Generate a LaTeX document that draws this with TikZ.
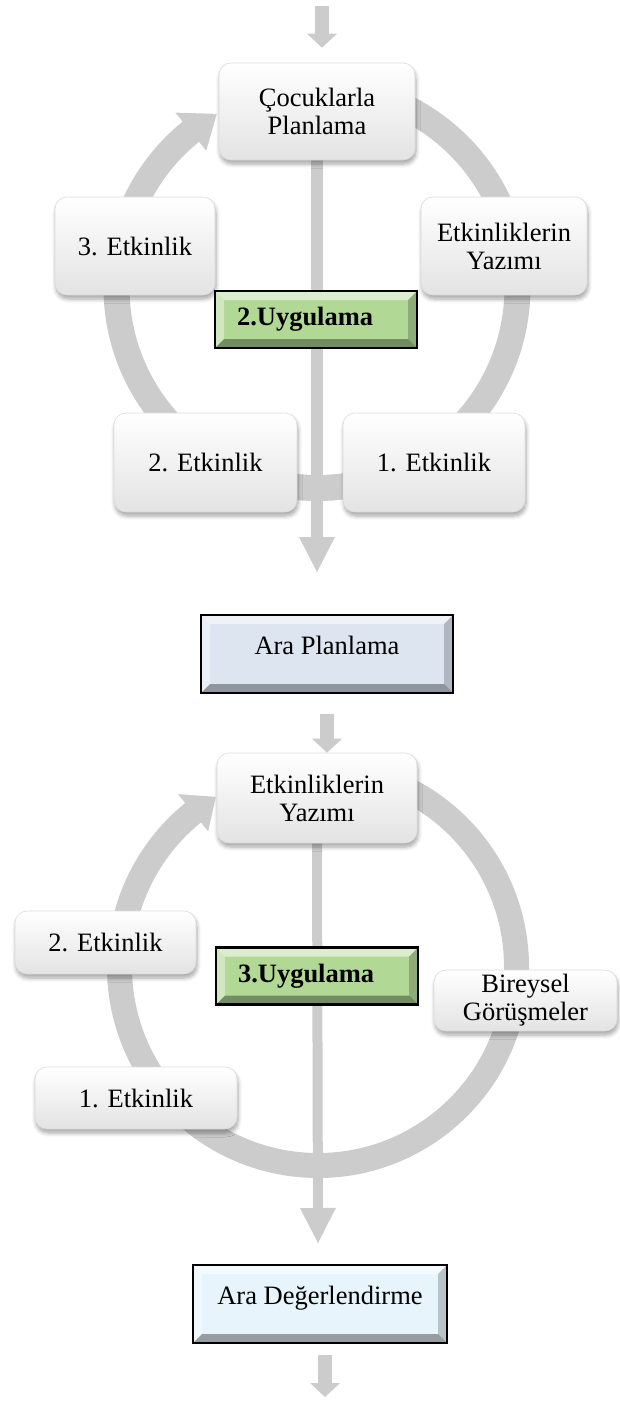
\documentclass[tikz,border=0pt]{standalone}
\usepackage{fontspec}
\setmainfont{Liberation Serif}
\usetikzlibrary{arrows.meta,shadows.blur,calc,backgrounds}
\definecolor{ringc}{HTML}{CCCCCC}
\definecolor{uygc}{HTML}{B2D896}
\definecolor{apc}{HTML}{DDE5F1}
\definecolor{adc}{HTML}{E7F4FC}
\newcommand{\bevw}{9pt}
\begin{document}
\begin{tikzpicture}[x=1pt,y=-1pt,
  txt/.style={font=\fontsize{26.5}{28}\selectfont, align=center, text=black},
  rbox/.style={txt, rounded corners=12pt, draw=black!14, line width=0.6pt,
    top color=white, bottom color=black!11, inner sep=0pt,
    blur shadow={shadow xshift=1pt, shadow yshift=-4pt, shadow blur radius=4pt, shadow blur steps=6, shadow opacity=35}},
  bev/.style={txt, draw=black, line width=2.4pt, fill=#1, inner sep=0pt,
    path picture={
      \fill[white,opacity=.55] (path picture bounding box.north west) -- (path picture bounding box.north east)
        -- ([xshift=-\bevw,yshift=-\bevw]path picture bounding box.north east) -- ([xshift=\bevw,yshift=-\bevw]path picture bounding box.north west) -- cycle;
      \fill[white,opacity=.4] (path picture bounding box.north west) -- ([xshift=\bevw,yshift=-\bevw]path picture bounding box.north west)
        -- ([xshift=\bevw,yshift=\bevw]path picture bounding box.south west) -- (path picture bounding box.south west) -- cycle;
      \fill[black,opacity=.35] (path picture bounding box.south west) -- (path picture bounding box.south east)
        -- ([xshift=-\bevw,yshift=\bevw]path picture bounding box.south east) -- ([xshift=\bevw,yshift=\bevw]path picture bounding box.south west) -- cycle;
      \fill[black,opacity=.2] (path picture bounding box.north east) -- (path picture bounding box.south east)
        -- ([xshift=-\bevw,yshift=\bevw]path picture bounding box.south east) -- ([xshift=-\bevw,yshift=-\bevw]path picture bounding box.north east) -- cycle;
    }},
  uyg/.style={bev=uygc, font=\fontsize{26.5}{28}\selectfont\bfseries, text width=158pt, align=left, minimum width=202pt, minimum height=57pt},
  smallflow/.style={draw=ringc, line width=14pt, -{Triangle[width=30pt,length=14pt,line width=0pt]}},
  bigflow/.style={draw=ringc, line width=#1, -{Triangle[width=36pt,length=35pt,line width=0pt]}},
  ringfill/.style={fill=ringc}
]
\useasboundingbox (0,0) rectangle (619,1401);

% ---------- upper cycle nodes ----------
\node[rbox, minimum width=196pt, minimum height=97pt] (cocuk) at (317,111.5) {Çocuklarla\\Planlama};
\node[rbox, minimum width=160pt, minimum height=98pt] (etk3a) at (135,246) {3. Etkinlik};
\node[rbox, minimum width=166pt, minimum height=98pt] (yazA) at (504,246) {Etkinliklerin\\Yazımı};
\node[rbox, minimum width=183pt, minimum height=99pt] (etk2a) at (205.5,462.5) {2. Etkinlik};
\node[rbox, minimum width=182pt, minimum height=99pt] (etk1a) at (434,462.5) {1. Etkinlik};
\node[uyg] (uyg2) at (316,319.5) {2.Uygulama};

% ---------- Ara Planlama ----------
\node[bev=apc, minimum width=252pt, minimum height=78pt, text height=18pt, text depth=18pt] (ap) at (327,654) {Ara Planlama};

% ---------- lower cycle nodes ----------
\node[rbox, minimum width=200pt, minimum height=90pt] (yazB) at (317,798) {Etkinliklerin\\Yazımı};
\node[rbox, minimum width=181pt, minimum height=63pt] (etk2b) at (105.5,942.5) {2. Etkinlik};
\node[rbox, minimum width=183pt, minimum height=61pt] (birey) at (525.5,1000.5) {Bireysel\\Görüşmeler};
\node[rbox, minimum width=202pt, minimum height=62pt] (etk1b) at (136,1098) {1. Etkinlik};
\node[uyg] (uyg3) at (317,976) {3.Uygulama};

% ---------- Ara Degerlendirme ----------
\node[bev=adc, minimum width=254pt, minimum height=78pt, text height=18pt, text depth=18pt] (ad) at (320,1304) {Ara Değerlendirme};

% ---------- coordinates for free ends ----------
\coordinate (in1) at (322,6);
\coordinate (out1) at (317,572);
\coordinate (out2) at (318,1243);
\coordinate (in3) at (325,1355);
\coordinate (out3) at (325,1397);
\coordinate (C1) at (317,287.5);
\coordinate (C2) at (318,967);

\begin{scope}[on background layer]
  % upper ring with arrowhead
  \fill[ringfill] ($(C1)+(-85:213.5)$) arc[start angle=-85,end angle=231,radius=213.5]
    -- ($(C1)+(231:225)$) -- ($(C1)+(240:200.5)$) -- ($(C1)+(231:176)$)
    -- ($(C1)+(231:187.5)$) arc[start angle=231,end angle=-85,radius=187.5] -- cycle;
  % lower ring with arrowhead
  \fill[ringfill] ($(C2)+(-85:211)$) arc[start angle=-85,end angle=231,radius=211]
    -- ($(C2)+(231:222.5)$) -- ($(C2)+(239:198.5)$) -- ($(C2)+(231:174.5)$)
    -- ($(C2)+(231:186)$) arc[start angle=231,end angle=-85,radius=186] -- cycle;
  % flows
  \draw[smallflow] (in1) -- ([yshift=15pt]in1 |- cocuk.north);
  \draw[bigflow=12pt] (cocuk.south) -- (out1);
  \draw[smallflow] ([yshift=-20pt]ap.south) -- (ap.south |- yazB.north);
  \draw[bigflow=10pt] (yazB.south) -- (out2);
  \draw[smallflow] (in3) -- (out3);
\end{scope}
\end{tikzpicture}
\end{document}
